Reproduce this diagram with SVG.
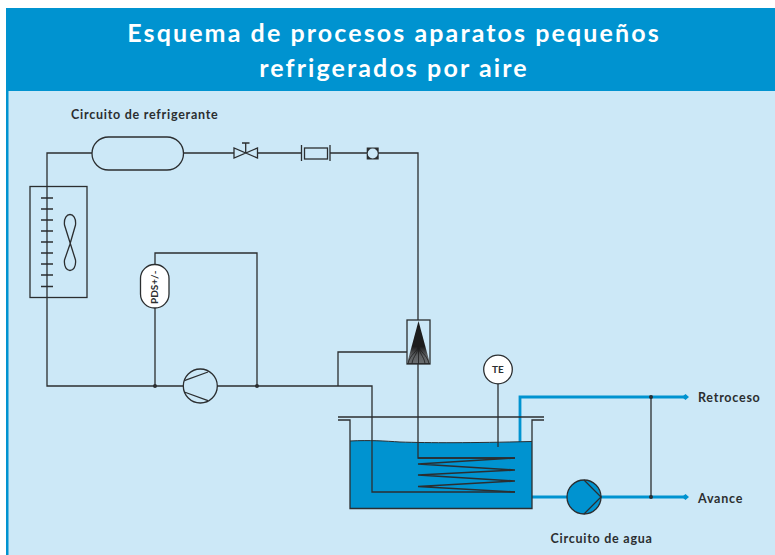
<svg xmlns="http://www.w3.org/2000/svg" width="775" height="555" viewBox="0 0 775 555">
<defs><style>
.l{fill:none;stroke:#2b2e30;stroke-width:1.3}
.s{fill:none;stroke:#2b2e30;stroke-width:1.6}
.w{fill:none;stroke:#0093d0;stroke-width:2.8}
.t{font-family:"Lato","Noto Sans",sans-serif;font-weight:700;fill:#2b2e30;font-size:12.5px;letter-spacing:.75px}
.m{font-family:"Lato","Noto Sans",sans-serif;font-weight:700;fill:#2b2e30;font-size:10px}
.h{font-family:"Lato","Noto Sans",sans-serif;font-weight:700;fill:#fff;font-size:25px;letter-spacing:2.1px;text-anchor:middle}
.d{fill:#2b2e30}
.f{fill:none;stroke:#1d1d1d;stroke-width:.8}
</style>
<linearGradient id="g" x1="0" y1="0" x2="0" y2="1"><stop offset=".6" stop-color="#1d1d1d"/><stop offset=".8" stop-color="#5a5d5f"/><stop offset="1" stop-color="#6a6d6f"/></linearGradient>
</defs>
<rect width="775" height="555" fill="#fff"/>
<rect x="6" y="90" width="769" height="465" fill="#cce8f7"/>
<rect x="6" y="90" width="2.5" height="465" fill="#0093d0"/>
<g id="title">
<rect x="6" y="8" width="769" height="83" fill="#0093d0"/>
<text class="h" x="394" y="42">Esquema de procesos aparatos pequeños</text>
<text class="h" x="394" y="77">refrigerados por aire</text>
</g>
<text class="t" x="71" y="119">Circuito de refrigerante</text>
<g id="tank-water">
<path d="M350 441 C370 440 385 441 400 442 C430 443 470 443 532 441.500 V508 H350Z" fill="#0093d0"/>
</g>
<g id="connectors">
<path class="w" d="M520 442V397H685M532 497H568M600 497H685"/>
<path class="l" d="M92 153H47V386H183M217 386H338V352H407M338 386H372V492H515M184 153H234M258 153H302M330 153H367M378 153H418V320M418 364V458H515M155 386V308M155 264V253H257V386"/>
<path class="s" d="M418 458H515L418 464 515 470 418 475 515 481 418 486.500 515 492"/>
<path class="l" d="M498 383V447"/>
<path class="l" d="M651 397V497"/>
<circle class="d" cx="155" cy="386" r="2"/><circle class="d" cx="257" cy="386" r="2"/>
<circle class="d" cx="651" cy="397" r="2"/><circle class="d" cx="651" cy="497" r="2"/>
<path d="M682 397 L685.500 394 689 397 685.500 400Z M682 497 L685.500 494 689 497 685.500 500Z" fill="#0093d0"/>
</g>
<g id="receiver"><rect class="l" x="92" y="137" width="91.500" height="33" rx="16.500"/></g>
<g id="valve"><path class="l" d="M234 148V158L257.500 148V158ZM245.700 153V143M242 143H249.500"/></g>
<g id="filter"><path class="l" d="M301.500 145V161M330 145V161"/><rect class="l" x="304.500" y="148" width="23" height="11"/></g>
<g id="sight-glass"><rect x="366.700" y="147.500" width="12" height="12" fill="#2b2e30"/><circle cx="372.700" cy="153.500" r="5" fill="#cce8f7"/></g>
<g id="condenser">
<rect class="l" x="30" y="186.500" width="57" height="111"/>
<path class="l" d="M41 198H53M41 209H53M41 220H53M41 231H53M41 242H53M41 253H53M41 264H53M41 275H53M41 286.500H53"/>
<path class="l" d="M69.700 245 L75.500 225 C77 211 63 211 64.500 225 L75.500 260 C77 274 63 274 64.500 260 L69.700 245"/>
</g>
<g id="pds"><rect x="140.500" y="264.500" width="28.500" height="43.500" rx="14" fill="#fff" stroke="#2b2e30" stroke-width="1.300"/>
<text class="m" transform="translate(157.500,304) rotate(-90)">PDS+/-</text></g>
<g id="compressor"><circle class="l" cx="200.300" cy="386" r="17"/><path class="l" d="M184.300 380.700L208 372M184.300 392L208 400.700"/></g>
<g id="expansion"><rect class="l" x="407" y="320" width="23" height="44"/><path d="M418.500 321L430 363.800H407Z" fill="url(#g)"/><path class="f" d="M418.500 345C418 352 410 354 408 363.500M418.500 345C418 354 413 356 412 363.500M418.500 345V363.500M418.500 345C419 354 424 356 425 363.500M418.500 345C419 352 427 354 429 363.500M407 363.500H430"/></g>
<g id="te"><circle cx="498" cy="369.500" r="14.300" fill="#fff" stroke="#2b2e30" stroke-width="1.300"/><text class="m" x="498" y="372.500" text-anchor="middle">TE</text></g>
<g id="tank">
<path class="l" d="M338 417H544M338 420H350V508.500H532V420H544"/>
<path d="M350 441 C370 440 385 441 400 442 C430 443 470 443 532 441.500" fill="none" stroke="#2b2e30" stroke-width="1"/>
</g>
<g id="pump"><circle cx="584" cy="497" r="17" fill="#0093d0" stroke="#2b2e30" stroke-width="1.300"/><path class="l" d="M584 480L601 497 584 514"/></g>
<text class="t" x="698" y="402">Retroceso</text>
<text class="t" x="698" y="503">Avance</text>
<text class="t" x="550.500" y="542.500">Circuito de agua</text>
</svg>
